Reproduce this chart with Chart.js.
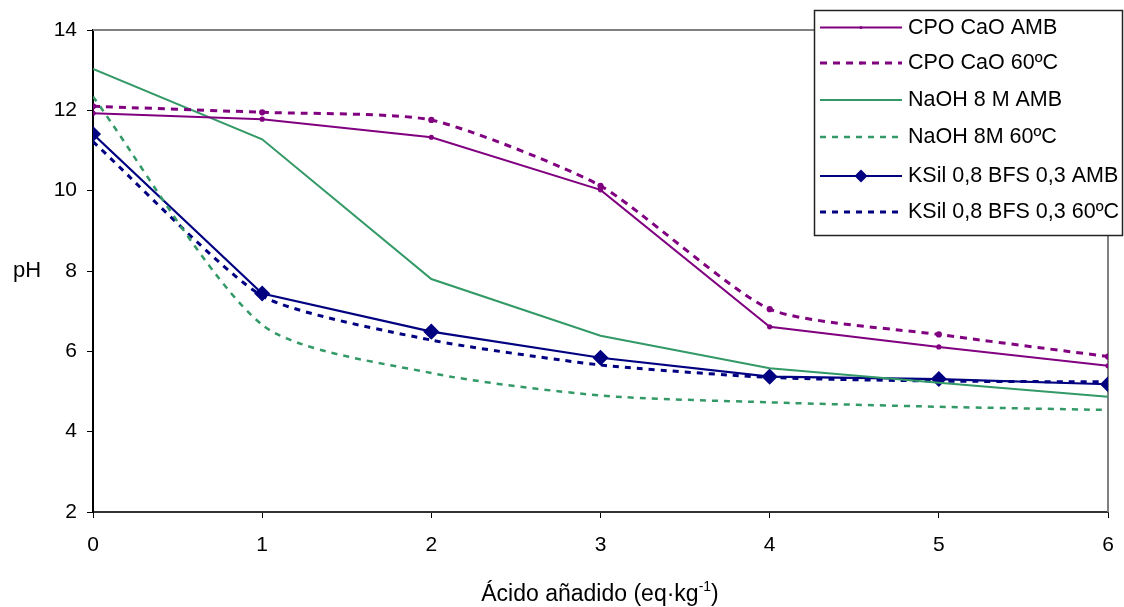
<!DOCTYPE html>
<html>
<head>
<meta charset="utf-8">
<script src="https://cdn.jsdelivr.net/npm/chart.js@4/dist/chart.umd.min.js"></script>
<style>
  html, body { margin: 0; padding: 0; background: #ffffff; }
  #wrap { width: 1124px; height: 607px; position: relative; }
</style>
</head>
<body>
<div id="wrap"><canvas id="c" width="1124" height="607"></canvas></div>
<script>
// Acid added (eq/kg) on the x axis
const acidAdded = [0, 1, 2, 3, 4, 5, 6];

// pH readings for each activator / curing condition
const cpoCaoAmb   = [11.93, 11.78, 11.33, 10.02, 6.61, 6.11, 5.64];
const cpoCao60    = [12.10, 11.95, 11.76, 10.12, 7.05, 6.42, 5.87];
const naoh8Amb    = [13.03, 11.28, 7.80, 6.39, 5.58, 5.22, 4.87];
const naoh860     = [12.34, 6.66, 5.46, 4.90, 4.73, 4.62, 4.54];
const ksilBfsAmb  = [11.41, 7.44, 6.49, 5.84, 5.37, 5.31, 5.18];
const ksilBfs60   = [11.22, 7.38, 6.28, 5.66, 5.35, 5.26, 5.24];

const seriesNames = [
  'CPO CaO AMB',
  'CPO CaO 60ºC',
  'NaOH 8 M AMB',
  'NaOH 8M 60ºC',
  'KSil 0,8 BFS 0,3 AMB',
  'KSil 0,8 BFS 0,3 60ºC'
];
const yTicks = [2, 4, 6, 8, 10, 12, 14];
const xTicks = [0, 1, 2, 3, 4, 5, 6];

const PURPLE = '#800080';
const GREEN = '#339966';
const NAVY = '#000080';
const FONT = '"Liberation Sans", Arial, sans-serif';

function pts(values) {
  return acidAdded.map((x, i) => ({ x: x, y: values[i] }));
}

const datasets = [
  { label: seriesNames[0], data: pts(cpoCaoAmb), borderColor: PURPLE, backgroundColor: PURPLE,
    borderWidth: 2, pointRadius: 1.6, pointStyle: 'circle', tension: 0 },
  { label: seriesNames[1], data: pts(cpoCao60), borderColor: PURPLE, backgroundColor: PURPLE,
    borderWidth: 3, borderDash: [7, 6], pointRadius: 1.6, pointStyle: 'circle', tension: 0.2 },
  { label: seriesNames[2], data: pts(naoh8Amb), borderColor: GREEN, backgroundColor: GREEN,
    borderWidth: 2, pointRadius: 0, tension: 0 },
  { label: seriesNames[3], data: pts(naoh860), borderColor: GREEN, backgroundColor: GREEN,
    borderWidth: 2.5, borderDash: [6, 6], pointRadius: 0, tension: 0.25 },
  { label: seriesNames[4], data: pts(ksilBfsAmb), borderColor: NAVY, backgroundColor: NAVY,
    borderWidth: 2.2, pointRadius: 6.5, pointStyle: 'rectRot', tension: 0 },
  { label: seriesNames[5], data: pts(ksilBfs60), borderColor: NAVY, backgroundColor: NAVY,
    borderWidth: 3, borderDash: [6, 6], pointRadius: 0, tension: 0.2 }
];

// Frame (top/right), axis titles and the boxed legend
const decorations = {
  id: 'decorations',
  beforeDatasetsDraw(chart) {
    const { ctx, chartArea: a } = chart;
    ctx.save();
    ctx.strokeStyle = '#808080';
    ctx.lineWidth = 2;
    ctx.beginPath();
    ctx.moveTo(a.left, a.top);
    ctx.lineTo(a.right, a.top);
    ctx.lineTo(a.right, a.bottom);
    ctx.stroke();
    ctx.restore();
  },
  afterDraw(chart) {
    const { ctx } = chart;
    ctx.save();
    ctx.fillStyle = '#000';
    // y title, horizontal
    ctx.font = '22px ' + FONT;
    ctx.textAlign = 'center';
    ctx.textBaseline = 'alphabetic';
    ctx.fillText('pH', 27, 277);

    // x title with superscript
    const main = 'Ácido añadido (eq·kg';
    const sup = '-1';
    const tail = ')';
    ctx.font = '23px ' + FONT;
    const wMain = ctx.measureText(main).width;
    const wTail = ctx.measureText(tail).width;
    ctx.font = '14px ' + FONT;
    const wSup = ctx.measureText(sup).width;
    const total = wMain + wSup + wTail;
    let x = 600 - total / 2;
    const base = 601;
    ctx.textAlign = 'left';
    ctx.font = '23px ' + FONT;
    ctx.fillText(main, x, base);
    x += wMain;
    ctx.font = '14px ' + FONT;
    ctx.fillText(sup, x, base - 10);
    x += wSup;
    ctx.font = '23px ' + FONT;
    ctx.fillText(tail, x, base);

    // legend box
    const lx = 814, ly = 10, lw = 309, lh = 225;
    ctx.fillStyle = '#fff';
    ctx.fillRect(lx, ly, lw, lh);
    ctx.strokeStyle = '#222';
    ctx.lineWidth = 1.5;
    ctx.strokeRect(lx + 0.5, ly + 0.5, lw - 1, lh);
    const rows = [27.5, 63, 100, 137, 176, 212];
    chart.data.datasets.forEach((ds, i) => {
      const y = rows[i];
      ctx.strokeStyle = ds.borderColor;
      ctx.lineWidth = ds.borderWidth;
      ctx.setLineDash(ds.borderDash || []);
      ctx.beginPath();
      ctx.moveTo(820, y);
      ctx.lineTo(902, y);
      ctx.stroke();
      ctx.setLineDash([]);
      if (ds.pointRadius > 0) {
        ctx.fillStyle = ds.backgroundColor;
        ctx.beginPath();
        if (ds.pointStyle === 'rectRot') {
          const r = ds.pointRadius;
          ctx.moveTo(861, y - r); ctx.lineTo(861 + r, y); ctx.lineTo(861, y + r); ctx.lineTo(861 - r, y);
          ctx.closePath();
        } else {
          ctx.arc(861, y, ds.pointRadius, 0, Math.PI * 2);
        }
        ctx.fill();
      }
      ctx.fillStyle = '#000';
      ctx.font = '21.5px ' + FONT;
      ctx.textAlign = 'left';
      ctx.textBaseline = 'middle';
      ctx.fillText(ds.label, 908, y + 0.5);
    });
    ctx.restore();
  }
};

new Chart(document.getElementById('c'), {
  type: 'line',
  data: { datasets: datasets },
  options: {
    responsive: false,
    animation: false,
    devicePixelRatio: 1,
    layout: { padding: { left: 0, top: 30, right: 16, bottom: 0 } },
    plugins: { legend: { display: false }, tooltip: { enabled: false } },
    scales: {
      x: {
        type: 'linear', min: 0, max: 6,
        afterFit(s) { s.height = 95; s.paddingLeft = 0; s.paddingRight = 0; },
        afterBuildTicks(s) { s.ticks = xTicks.map(v => ({ value: v })); },
        grid: { display: true, drawOnChartArea: false, drawTicks: true, tickLength: 6, color: '#000', lineWidth: 1 },
        border: { display: true, color: '#333', width: 2 },
        ticks: { color: '#000', font: { family: FONT, size: 21 }, padding: 15, maxRotation: 0 }
      },
      y: {
        type: 'linear', min: 2, max: 14,
        afterFit(s) { s.width = 93; s.paddingTop = 0; s.paddingBottom = 0; },
        afterBuildTicks(s) { s.ticks = yTicks.map(v => ({ value: v })); },
        grid: { display: true, drawOnChartArea: false, drawTicks: true, tickLength: 6, color: '#000', lineWidth: 1 },
        border: { display: true, color: '#000', width: 2 },
        ticks: { color: '#000', font: { family: FONT, size: 21 }, padding: 10 }
      }
    }
  },
  plugins: [decorations]
});
</script>
</body>
</html>
